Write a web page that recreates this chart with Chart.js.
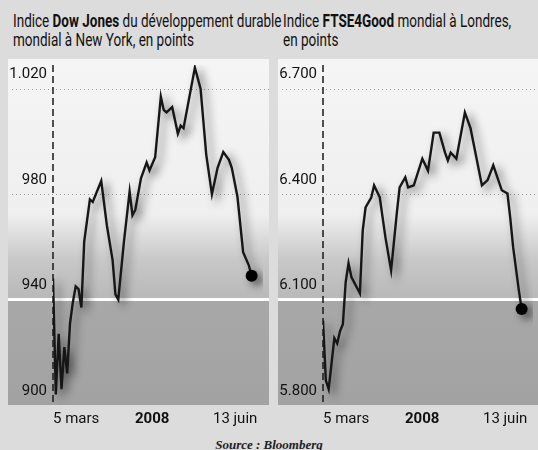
<!DOCTYPE html>
<html lang="fr">
<head>
<meta charset="UTF-8">
<title>Indices du développement durable</title>
<script src="https://cdn.jsdelivr.net/npm/chart.js@4"></script>
<style>
  html, body { margin: 0; padding: 0; }
  body { width: 538px; height: 450px; background: #dcdcdc; position: relative; overflow: hidden; font-family: Roboto, sans-serif; color: #111; }
  .panel { position: absolute; top: 0; width: 269px; height: 450px; }
  #p1 { left: 0; }
  #p2 { left: 270px; }
  .ttl { position: absolute; top: 11px; left: 13px; font-size: 18px; line-height: 19px; white-space: nowrap; transform: scaleX(0.75); transform-origin: 0 0; }
  .ttl b { font-weight: 700; }
  .cv { position: absolute; left: 0; top: 50px; width: 269px; height: 385px; }
  .src { position: absolute; left: 0; width: 538px; top: 437px; text-align: center; font: italic bold 13px 'Liberation Serif', serif; color: #222; }
</style>
</head>
<body>
  <div class="panel" id="p1">
    <div class="ttl">Indice <b>Dow Jones</b> du développement durable<br>mondial à New York, en points</div>
    <div class="cv"><canvas id="c1"></canvas></div>
  </div>
  <div class="panel" id="p2">
    <div class="ttl">Indice <b>FTSE4Good</b> mondial à Londres,<br>en points</div>
    <div class="cv"><canvas id="c2"></canvas></div>
  </div>
  <div class="src">Source : Bloomberg</div>
<script>
// trading days counted from 5 March (0) to 13 June (70)
const djDays = [0, 1, 2, 3, 4, 5, 6, 7, 8, 9, 10, 11, 13, 14, 17, 19, 21, 22, 23, 25, 27, 28, 29, 31, 33, 34, 36, 38, 39, 40, 42, 44, 45, 46, 50, 52, 54, 56, 58, 60, 62, 63, 65, 67, 69, 70];
const djValues = [948, 904, 927, 906, 922, 912, 931, 939, 945, 944, 937, 962, 978, 977, 985, 968, 955, 942, 940, 962, 981, 972, 974, 986, 992, 989, 994, 1017, 1012, 1011, 1013, 1003, 1006, 1005, 1028, 1020, 995, 980, 990, 996, 993, 990, 979, 958, 953, 949];

const ftseDays = [0, 1, 2, 4, 5, 6, 7, 8, 9, 10, 13, 14, 15, 17, 18, 20, 22, 24, 26, 27, 29, 30, 32, 35, 37, 39, 41, 43, 44, 45, 47, 50, 52, 56, 58, 60, 63, 65, 66, 67, 69, 70];
const ftseValues = [6040, 5870, 5845, 5990, 5975, 6010, 6030, 6150, 6203, 6164, 6118, 6297, 6362, 6390, 6425, 6391, 6277, 6183, 6345, 6419, 6448, 6419, 6425, 6501, 6467, 6575, 6575, 6518, 6496, 6518, 6501, 6632, 6587, 6425, 6440, 6482, 6411, 6402, 6331, 6249, 6127, 6073];

const djTicks = [900, 940, 980, 1020];
const djTickLabels = ['900', '940', '980', '1.020'];
const ftseTicks = [5800, 6100, 6400, 6700];
const ftseTickLabels = ['5.800', '6.100', '6.400', '6.700'];

const xTickDays = [0, 36, 72];
const xTickLabels = ['5 mars', '2008', '13 juin'];

const LABEL_FONT = 'Roboto, sans-serif';

// grey shadow under the index line, like the print
const lineShadow = {
  id: 'lineShadow',
  beforeDatasetDraw(chart) {
    const c = chart.ctx;
    c.save();
    c.shadowColor = 'rgba(30,30,30,0.65)';
    c.shadowBlur = 8;
    c.shadowOffsetX = 5;
    c.shadowOffsetY = 4;
  },
  afterDatasetDraw(chart) { chart.ctx.restore(); }
};

// background band, grid lines, dashed axis, x labels
const panelDecor = {
  id: 'panelDecor',
  beforeDraw(chart) {
    const { ctx, chartArea: a, scales: { y } } = chart;
    const ticks = chart.options.plugins.panelDecor.ticks;
    const top = a.top - 6, h = a.bottom - top;
    const band = y.getPixelForValue(ticks[1]);
    const f = p => Math.min(1, Math.max(0, (p - top) / h));
    const g = ctx.createLinearGradient(0, top, 0, a.bottom);
    g.addColorStop(0, '#f5f5f5');
    g.addColorStop(f(band - 85), '#efefef');
    g.addColorStop(f(band - 40), '#c8c8c8');
    g.addColorStop(f(band), '#b8b8b8');
    g.addColorStop(f(band + 1), '#a8a8a8');
    g.addColorStop(1, '#a2a2a2');
    ctx.save();
    ctx.fillStyle = g;
    ctx.fillRect(8, top, chart.width - 8, h);
    ctx.restore();
  },
  beforeDatasetsDraw(chart) {
    const { ctx, chartArea: a, scales: { y } } = chart;
    const ticks = chart.options.plugins.panelDecor.ticks;
    ctx.save();
    // white line
    ctx.strokeStyle = '#ffffff';
    ctx.lineWidth = 3;
    let py = y.getPixelForValue(ticks[1]);
    ctx.beginPath(); ctx.moveTo(8, py); ctx.lineTo(chart.width, py); ctx.stroke();
    // dotted lines
    ctx.strokeStyle = '#9a9a9a';
    ctx.lineWidth = 1;
    ctx.setLineDash([1, 3]);
    [ticks[2], ticks[3]].forEach(v => {
      py = Math.round(y.getPixelForValue(v)) + 0.5;
      ctx.beginPath(); ctx.moveTo(12, py); ctx.lineTo(chart.width, py); ctx.stroke();
    });
    // dashed axis
    ctx.strokeStyle = '#1a1a1a';
    ctx.lineWidth = 1.5;
    ctx.setLineDash([7, 4]);
    ctx.beginPath(); ctx.moveTo(a.left, a.top); ctx.lineTo(a.left, a.bottom); ctx.stroke();
    ctx.restore();
  },
  afterDraw(chart) {
    const { ctx, chartArea: a, scales: { x } } = chart;
    const aligns = ['left', 'center', 'right'];
    ctx.save();
    ctx.fillStyle = '#111';
    ctx.textBaseline = 'middle';
    xTickDays.forEach((d, i) => {
      ctx.font = (i === 1 ? 'bold 15px ' : '15px ') + LABEL_FONT;
      ctx.textAlign = aligns[i];
      ctx.fillText(xTickLabels[i], x.getPixelForValue(d) - (i === 1 ? 3 : 0), a.bottom + 14);
    });
    ctx.restore();
  }
};

function makeChart(id, days, values, ticks, tickLabels) {
  const last = values.length - 1;
  return new Chart(document.getElementById(id), {
    type: 'line',
    data: {
      datasets: [{
        data: days.map((d, i) => ({ x: d, y: values[i] })),
        borderColor: '#161616',
        backgroundColor: '#000000',
        borderWidth: 2.4,
        tension: 0,
        pointRadius: ctx => ctx.dataIndex === last ? 6 : 0,
        pointBorderWidth: 0,
      }]
    },
    options: {
      responsive: true,
      maintainAspectRatio: false,
      animation: false,
      layout: { padding: { top: 10, bottom: 30, right: 1, left: 0 } },
      scales: {
        x: { type: 'linear', min: 0, max: 74, display: false },
        y: {
          min: ticks[0],
          max: ticks[0] + (ticks[3] - ticks[0]) * 1.075,
          afterBuildTicks: s => { s.ticks = ticks.map(v => ({ value: v })); },
          afterFit: s => { s.width = 53; },
          grid: { display: false, drawTicks: false },
          border: { display: false },
          ticks: {
            color: '#111',
            padding: 6,
            labelOffset: -14,
            font: { family: LABEL_FONT, size: 15 },
            callback: (v, i) => tickLabels[i],
          },
        },
      },
      plugins: {
        legend: { display: false },
        tooltip: { enabled: false },
        panelDecor: { ticks },
      },
    },
    plugins: [panelDecor, lineShadow],
  });
}

makeChart('c1', djDays, djValues, djTicks, djTickLabels);
makeChart('c2', ftseDays, ftseValues, ftseTicks, ftseTickLabels);
</script>
</body>
</html>
